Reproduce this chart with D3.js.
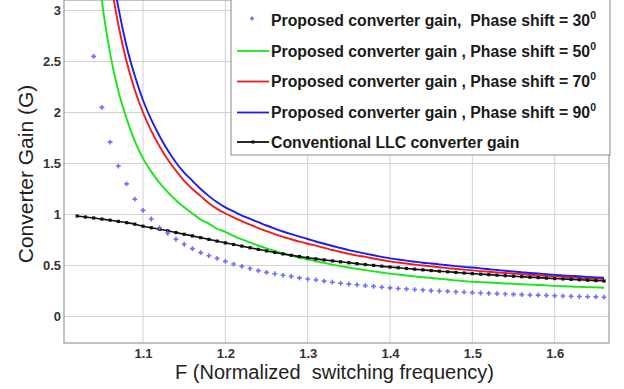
<!DOCTYPE html>
<html>
<head>
<meta charset="utf-8">
<script src="https://cdn.jsdelivr.net/npm/d3@7"></script>
<style>
  html, body { margin: 0; padding: 0; background: #fff; }
  svg { display: block; }
  text { font-family: "Liberation Sans", Arial, sans-serif; }
</style>
</head>
<body>
<svg id="chart" width="624" height="389"></svg>
<script>
// Normalized switching frequency grids
const freqProposed = d3.range(104, 167).map(v => v / 100);      // 1.04 .. 1.66
const freqConventional = d3.range(102, 167).map(v => v / 100);  // 1.02 .. 1.66

// Proposed converter gain, phase shift = 30 deg (1.04 .. 1.66)
const gain30 = [2.55, 2.05, 1.71, 1.475, 1.30, 1.15, 1.04, 0.956, 0.87, 0.816,
  0.757, 0.708, 0.665, 0.626, 0.596, 0.57, 0.54, 0.514, 0.491, 0.47,
  0.45, 0.432, 0.419, 0.404, 0.393, 0.379, 0.367, 0.358, 0.347, 0.336,
  0.326, 0.317, 0.311, 0.303, 0.295, 0.287, 0.28, 0.274, 0.269, 0.264,
  0.259, 0.254, 0.25, 0.246, 0.242, 0.238, 0.234, 0.23, 0.227, 0.224,
  0.22, 0.217, 0.214, 0.211, 0.209, 0.206, 0.203, 0.201, 0.198, 0.196,
  0.194, 0.192, 0.189];

// Proposed converter gain, phase shift = 50 deg (1.04 .. 1.66)
const gain50 = [3.88, 3.10, 2.58, 2.21, 1.94, 1.72, 1.55, 1.42, 1.31, 1.22,
  1.14, 1.07, 1.01, 0.95, 0.91, 0.86, 0.83, 0.79, 0.755, 0.726,
  0.696, 0.668, 0.642, 0.619, 0.596, 0.576, 0.56, 0.542, 0.525, 0.509,
  0.494, 0.48, 0.467, 0.454, 0.442, 0.431, 0.42, 0.412, 0.402, 0.393,
  0.384, 0.378, 0.37, 0.362, 0.354, 0.347, 0.34, 0.337, 0.333, 0.328,
  0.324, 0.32, 0.316, 0.312, 0.309, 0.305, 0.30, 0.297, 0.294, 0.29,
  0.288, 0.285, 0.282];

// Proposed converter gain, phase shift = 70 deg (1.04 .. 1.66)
const gain70 = [4.88, 3.9, 3.33, 2.86, 2.50, 2.22, 2.0, 1.82, 1.67, 1.54,
  1.43, 1.33, 1.25, 1.18, 1.11, 1.055, 1.01, 0.971, 0.936, 0.90,
  0.867, 0.836, 0.808, 0.781, 0.757, 0.734, 0.713, 0.694, 0.672, 0.652,
  0.632, 0.614, 0.597, 0.584, 0.568, 0.554, 0.54, 0.529, 0.519, 0.509,
  0.50, 0.491, 0.483, 0.474, 0.467, 0.459, 0.452, 0.445, 0.438, 0.432,
  0.426, 0.42, 0.414, 0.409, 0.403, 0.398, 0.393, 0.389, 0.384, 0.379,
  0.375, 0.371, 0.367];

// Proposed converter gain, phase shift = 90 deg (1.04 .. 1.66)
const gain90 = [5.3, 4.24, 3.53, 3.03, 2.65, 2.36, 2.12, 1.93, 1.77, 1.63,
  1.51, 1.41, 1.33, 1.25, 1.18, 1.12, 1.07, 1.03, 0.99, 0.957,
  0.925, 0.892, 0.862, 0.833, 0.807, 0.783, 0.76, 0.735, 0.713, 0.691,
  0.671, 0.651, 0.633, 0.616, 0.60, 0.585, 0.57, 0.559, 0.548, 0.537,
  0.527, 0.52, 0.511, 0.502, 0.494, 0.486, 0.48, 0.472, 0.463, 0.456,
  0.448, 0.441, 0.434, 0.427, 0.421, 0.414, 0.408, 0.403, 0.398, 0.394,
  0.388, 0.383, 0.379];

// Conventional LLC converter gain (1.02 .. 1.66)
const gainLLC = [0.985, 0.975, 0.966, 0.955, 0.944, 0.932, 0.92, 0.905, 0.885, 0.87,
  0.855, 0.84, 0.823, 0.806, 0.79, 0.773, 0.756, 0.739, 0.722, 0.706,
  0.69, 0.674, 0.658, 0.643, 0.628, 0.614, 0.60, 0.588, 0.576, 0.565,
  0.555, 0.545, 0.536, 0.527, 0.518, 0.509, 0.501, 0.493, 0.485, 0.478,
  0.471, 0.464, 0.457, 0.45, 0.444, 0.438, 0.432, 0.426, 0.42, 0.415,
  0.41, 0.405, 0.40, 0.395, 0.39, 0.385, 0.381, 0.376, 0.372, 0.368,
  0.364, 0.36, 0.356, 0.352, 0.348];

const xTicks = [1.1, 1.2, 1.3, 1.4, 1.5, 1.6];
const yTicks = [0, 0.5, 1, 1.5, 2, 2.5, 3];

const legendLabels = [
  "Proposed converter gain,  Phase shift = 30",
  "Proposed converter gain , Phase shift = 50",
  "Proposed converter gain , Phase shift = 70",
  "Proposed converter gain , Phase shift = 90",
  "Conventional LLC converter gain"
];

const colors = { p30: "#6f6fff", p50: "#19e619", p70: "#f01c1c", p90: "#1c1cf2", llc: "#111" };

const svg = d3.select("#chart");
const plot = { left: 64, right: 609, top: 0, bottom: 343 };

const x = d3.scaleLinear().domain([1.004, 1.666]).range([plot.left, plot.right]);
const y = d3.scaleLinear().domain([-0.26, 3.103]).range([plot.bottom, plot.top]);

svg.append("defs").append("clipPath").attr("id", "clip")
  .append("rect")
  .attr("x", plot.left).attr("y", plot.top)
  .attr("width", plot.right - plot.left).attr("height", plot.bottom - plot.top);

// grid
const grid = svg.append("g");
grid.selectAll(".gx").data(xTicks).join("line")
  .attr("x1", d => x(d)).attr("x2", d => x(d))
  .attr("y1", plot.top).attr("y2", plot.bottom)
  .attr("stroke", "#d2d2d2").attr("stroke-width", 1);
grid.selectAll(".gy").data(yTicks).join("line")
  .attr("x1", plot.left).attr("x2", plot.right)
  .attr("y1", d => y(d)).attr("y2", d => y(d))
  .attr("stroke", "#d2d2d2").attr("stroke-width", 1);

// axes
const xAxis = svg.append("g").attr("transform", `translate(0,${plot.bottom})`)
  .call(d3.axisBottom(x).tickValues(xTicks).tickSize(0).tickPadding(6).tickFormat(d3.format(".1f")));
const yAxis = svg.append("g").attr("transform", `translate(${plot.left},0)`)
  .call(d3.axisLeft(y).tickValues(yTicks).tickSize(0).tickPadding(3).tickFormat(d => String(d)));
[xAxis, yAxis].forEach(a => {
  a.select(".domain").remove();
  a.selectAll("text").attr("font-size", 13).attr("font-weight", "bold")
    .attr("fill", "#333").attr("font-family", "Liberation Sans, Arial, sans-serif");
});

// frame
svg.append("rect")
  .attr("x", plot.left).attr("y", plot.top)
  .attr("width", plot.right - plot.left).attr("height", plot.bottom - plot.top)
  .attr("fill", "none").attr("stroke", "#9a9a9a").attr("stroke-width", 1.2);

const area = svg.append("g").attr("clip-path", "url(#clip)");

const line = d3.line().x(d => x(d[0])).y(d => y(d[1])).curve(d3.curveMonotoneX);

const pairs = (fs, gs) => fs.map((f, i) => [f, gs[i]]);

// phase shift curves
[[gain50, colors.p50], [gain70, colors.p70], [gain90, colors.p90]].forEach(([g, c]) => {
  area.append("path").datum(pairs(freqProposed, g))
    .attr("d", line).attr("fill", "none").attr("stroke", c).attr("stroke-width", 1.9);
});

// conventional LLC gain
area.append("path").datum(pairs(freqConventional, gainLLC))
  .attr("d", line).attr("fill", "none").attr("stroke", colors.llc).attr("stroke-width", 1.6);
area.selectAll(".mk").data(pairs(freqConventional, gainLLC)).join("rect")
  .attr("x", d => x(d[0]) - 1.6).attr("y", d => y(d[1]) - 1.6)
  .attr("width", 3.2).attr("height", 3.2).attr("fill", colors.llc);

// phase shift 30 deg: plus markers
const plus = (sel, s) => sel.attr("d", `M${-s},0H${s}M0,${-s}V${s}`)
  .attr("stroke", colors.p30).attr("stroke-width", 1.6).attr("fill", "none");
area.selectAll(".p30").data(pairs(freqProposed, gain30)).join("path")
  .attr("transform", d => `translate(${x(d[0])},${y(d[1])})`)
  .call(plus, 2.4);

// legend
const lg = svg.append("g");
lg.append("rect").attr("x", 231).attr("y", -1).attr("width", 379).attr("height", 156)
  .attr("fill", "#fff").attr("stroke", "#8a8a8a").attr("stroke-width", 1);

const rowY = [20.5, 51, 81.5, 112.5, 142];
const rowKinds = ["p30", "p50", "p70", "p90", "llc"];
rowKinds.forEach((k, i) => {
  const cy = rowY[i];
  if (k === "p30") {
    lg.append("path").attr("transform", `translate(252,${cy - 2})`).call(plus, 2);
  } else {
    lg.append("line").attr("x1", 237).attr("x2", 269).attr("y1", cy).attr("y2", cy)
      .attr("stroke", colors[k]).attr("stroke-width", 1.8);
    if (k === "llc") {
      lg.append("rect").attr("x", 251.5).attr("y", cy - 1.5).attr("width", 3).attr("height", 3)
        .attr("fill", colors.llc);
    }
  }
  const t = lg.append("text").attr("x", 271).attr("y", cy + 5.6)
    .attr("font-size", 15.8).attr("font-weight", "bold").attr("fill", "#1a1a1a")
    .style("white-space", "pre");
  t.append("tspan").text(legendLabels[i]);
  if (k !== "llc") {
    t.append("tspan").attr("dy", -7).attr("font-size", 10.5).text("0");
  }
});

// axis titles
svg.append("text").attr("x", 334.5).attr("y", 379)
  .attr("text-anchor", "middle").attr("font-size", 20).attr("fill", "#222")
  .style("white-space", "pre")
  .text("F (Normalized  switching frequency)");
svg.append("text")
  .attr("transform", "translate(33,174) rotate(-90)")
  .attr("text-anchor", "middle").attr("font-size", 21).attr("fill", "#222")
  .text("Converter Gain (G)");
</script>
</body>
</html>
